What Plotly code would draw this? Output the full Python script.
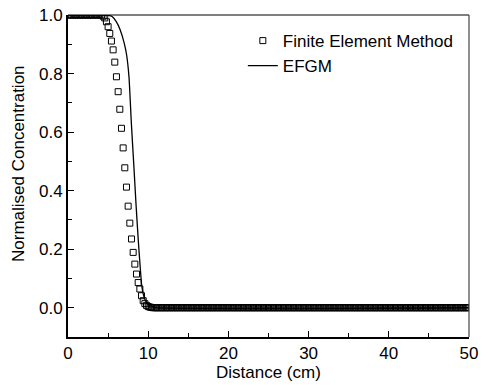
import numpy as np
import plotly.graph_objects as go

# FEM nodes: 241 evenly spaced nodes over 0-50 cm
fem_x = np.linspace(0, 50, 241)
fem_head = [1.0] * 21 + [0.996, 0.99]
fem_drop = [0.977, 0.960, 0.937, 0.911, 0.881, 0.839, 0.789, 0.738, 0.678,
            0.613, 0.546, 0.478, 0.412, 0.347, 0.289, 0.235, 0.189, 0.149,
            0.115, 0.086, 0.064, 0.041, 0.024, 0.014, 0.008, 0.004, 0.002, 0.001]
fem_tail = [0.0] * (241 - len(fem_head) - len(fem_drop))
fem_y = fem_head + fem_drop + fem_tail

efgm_x = [0, 4.5, 5.0, 5.5, 6.0, 6.5, 7.0, 7.3, 7.6, 7.9, 8.2, 8.5, 8.8,
          9.0, 9.2, 9.5, 9.8, 10.2, 10.6, 11.0, 50]
efgm_y = [1.0, 1.0, 0.999, 0.995, 0.978, 0.950, 0.905, 0.865, 0.79, 0.63,
          0.49, 0.345, 0.215, 0.14, 0.075, 0.035, 0.018, 0.008, 0.003, 0.0, 0.0]

x_ticks = [0, 10, 20, 30, 40, 50]
y_ticks = [0.0, 0.2, 0.4, 0.6, 0.8, 1.0]

font = "Liberation Sans, Arial, sans-serif"

fig = go.Figure()
fig.add_trace(go.Scatter(
    x=fem_x, y=fem_y, mode="markers", name="Finite Element Method",
    marker=dict(symbol="square-open", size=6, color="black",
                line=dict(width=1, color="black")),
))
fig.add_trace(go.Scatter(
    x=efgm_x, y=efgm_y, mode="lines", name="EFGM",
    line=dict(color="black", width=1.3, shape="spline", smoothing=0.6),
))

fig.update_layout(
    width=488, height=385,
    margin=dict(l=68, r=19, t=15, b=48, autoexpand=False),
    paper_bgcolor="white", plot_bgcolor="white",
    font=dict(family=font, size=17, color="black"),
    showlegend=True,
    legend=dict(x=0.436, y=0.975, xanchor="left", yanchor="top",
                bgcolor="rgba(0,0,0,0)", font=dict(size=17),
                tracegroupgap=0),
    xaxis=dict(
        range=[0, 50], tickvals=x_ticks, ticks="inside", ticklen=6,
        tickwidth=1.2, tickcolor="black", showline=True, linecolor="black",
        linewidth=2, showgrid=False, zeroline=False, automargin=False,
        tickfont=dict(size=17),
        minor=dict(ticks="inside", ticklen=4, dtick=5, tickcolor="black",
                   tickwidth=1, showgrid=False),
    ),
    yaxis=dict(
        range=[-0.1, 1.0], tickvals=y_ticks, tickformat=".1f",
        ticks="inside", ticklen=6, tickwidth=1.2, tickcolor="black",
        showline=True, linecolor="black", linewidth=2, showgrid=False,
        zeroline=False, automargin=False, tickfont=dict(size=17),
        minor=dict(ticks="inside", ticklen=4, dtick=0.1, tick0=0,
                   tickcolor="black", tickwidth=1, showgrid=False),
    ),
)
fig.add_annotation(text="Distance (cm)",
                   xref="paper", yref="paper", x=0.5, y=-(372 - 337) / 322,
                   xanchor="center", yanchor="middle", showarrow=False,
                   font=dict(size=17, family=font, color="black"))
fig.add_annotation(text="Normalised Concentration", textangle=-90,
                   xref="paper", yref="paper", x=-0.125, y=0.54,
                   xanchor="center", yanchor="middle", showarrow=False,
                   font=dict(size=17, family=font, color="black"))
fig.add_shape(type="line", xref="paper", yref="paper", x0=0, x1=1, y0=1, y1=1,
              line=dict(color="black", width=1.2))
fig.add_shape(type="line", xref="paper", yref="paper", x0=1, x1=1, y0=0, y1=1,
              line=dict(color="#444", width=1.2))

fig.write_html("out.html")
